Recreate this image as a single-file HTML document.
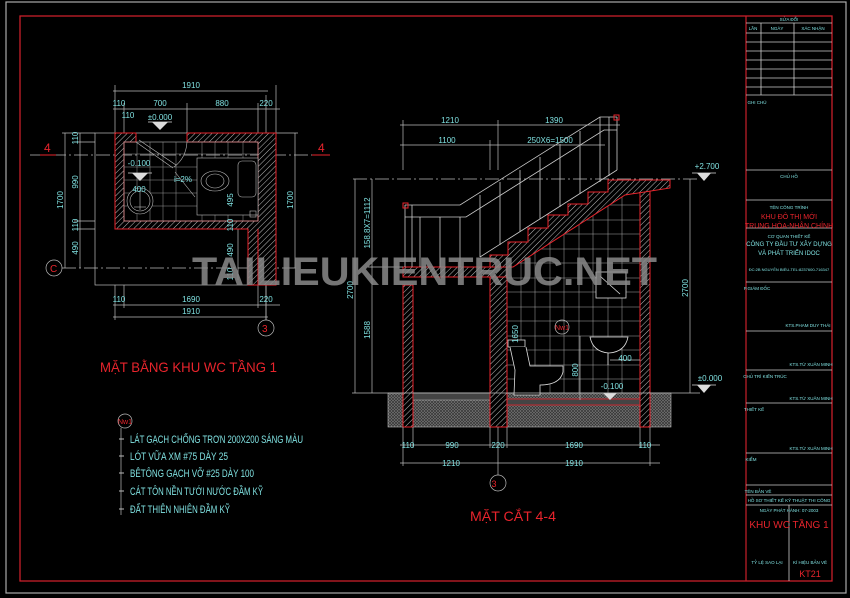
<!DOCTYPE html>
<html><head><meta charset="utf-8"><style>
html,body{margin:0;padding:0;background:#000;}
svg{display:block;}
text{font-family:"Liberation Sans Narrow","Liberation Sans",sans-serif;}
</style></head><body>
<svg width="850" height="598" viewBox="0 0 850 598" xmlns="http://www.w3.org/2000/svg">
<defs>
<pattern id="h" width="4" height="4" patternUnits="userSpaceOnUse" patternTransform="rotate(45)">
<rect width="4" height="4" fill="#000"/><line x1="0" y1="0" x2="0" y2="4" stroke="#bbb" stroke-width="1"/></pattern>
<pattern id="x" width="3" height="3" patternUnits="userSpaceOnUse">
<rect width="3" height="3" fill="#777"/><path d="M0 0L3 3M3 0L0 3" stroke="#333" stroke-width="0.7"/></pattern>
<clipPath id="bath"><polygon points="507,258 625,195 640,188 640,393 507,393"/></clipPath>
</defs>
<rect width="850" height="598" fill="#000"/>
<rect x="6" y="2" width="840" height="591" fill="none" stroke="#aaa" stroke-width="1.2"/>
<rect x="20" y="16" width="812" height="565" fill="none" stroke="#c8202a" stroke-width="1.3"/>

<!-- TITLE BLOCK -->
<g stroke="#ccc" stroke-width="0.8" fill="none">
<line x1="746" y1="16" x2="746" y2="581" stroke="#c8202a" stroke-width="1.2"/>
<line x1="746" y1="23" x2="832" y2="23"/>
<line x1="746" y1="33" x2="832" y2="33"/>
<line x1="746" y1="42" x2="832" y2="42"/><line x1="746" y1="51" x2="832" y2="51"/>
<line x1="746" y1="60" x2="832" y2="60"/><line x1="746" y1="69" x2="832" y2="69"/>
<line x1="746" y1="78" x2="832" y2="78"/><line x1="746" y1="87" x2="832" y2="87"/>
<line x1="746" y1="95" x2="832" y2="95"/>
<line x1="761" y1="23" x2="761" y2="95"/><line x1="794" y1="23" x2="794" y2="95"/>
<line x1="746" y1="170" x2="832" y2="170"/>
<line x1="746" y1="200" x2="832" y2="200"/>
<line x1="746" y1="228" x2="832" y2="228"/>
<line x1="746" y1="282" x2="832" y2="282"/>
<line x1="746" y1="331" x2="832" y2="331"/>
<line x1="746" y1="370" x2="832" y2="370"/>
<line x1="746" y1="403" x2="832" y2="403"/>
<line x1="746" y1="453" x2="832" y2="453"/>
<line x1="746" y1="485" x2="832" y2="485"/>
<line x1="746" y1="495" x2="832" y2="495"/>
<line x1="746" y1="505" x2="832" y2="505"/>
<line x1="789" y1="505" x2="789" y2="581"/>
</g>
<g fill="#7fe0e0" font-size="4.5" text-anchor="middle">
<text x="789" y="21">SỬA ĐỔI</text>
<text x="753" y="30">LẦN</text><text x="777" y="30">NGÀY</text><text x="813" y="30">XÁC NHẬN</text>
<text x="757" y="104">GHI CHÚ</text>
<text x="789" y="178">CHỦ HỒ</text>
<text x="789" y="209">TÊN CÔNG TRÌNH</text>
<text x="789" y="238">CƠ QUAN THIẾT KẾ</text>
<text x="789" y="271" font-size="4">ĐC:2B NGUYỄN BIỂU-TEL:8237600-716347</text>
<text x="757" y="290">P.GIÁM ĐỐC</text>
<text x="808" y="327">KTS.PHAM DUY THÁI</text>
<text x="765" y="378">CHỦ TRÌ KIẾN TRÚC</text>
<text x="811" y="366">KTS.TỪ XUÂN MINH</text>
<text x="754" y="411">THIẾT KẾ</text>
<text x="811" y="400">KTS.TỪ XUÂN MINH</text>
<text x="751" y="461">KIỂM</text>
<text x="811" y="450">KTS.TỪ XUÂN MINH</text>
<text x="758" y="493">TÊN BẢN VẼ</text>
<text x="789" y="502">HỒ SƠ THIẾT KẾ KỸ THUẬT THI CÔNG</text>
<text x="789" y="512">NGÀY PHÁT HÀNH: 07-2003</text>
<text x="767" y="564">TỶ LỆ SAO LẠI</text>
<text x="810" y="564">KÍ HIỆU BẢN VẼ</text>
<text x="789" y="246" font-size="6">CÔNG TY ĐẦU TƯ XÂY DỰNG</text>
<text x="789" y="255" font-size="6">VÀ PHÁT TRIỂN IDOC</text>
</g>
<g fill="#e8242c" text-anchor="middle">
<text x="789" y="219" font-size="7">KHU ĐÔ THỊ MỚI</text>
<text x="789" y="228" font-size="7">TRUNG HÒA-NHÂN CHÍNH</text>
<text x="789" y="528" font-size="10">KHU WC TẦNG 1</text>
<text x="810" y="577" font-size="9">KT21</text>
</g>

<!-- PLAN -->
<g stroke="#bbb" stroke-width="0.7" fill="none">
<rect x="95" y="133" width="181" height="152"/>
<line x1="113" y1="91" x2="268" y2="91"/>
<line x1="113" y1="109" x2="280" y2="109"/>
<line x1="115" y1="85" x2="115" y2="135"/><line x1="124" y1="103" x2="124" y2="135"/>
<line x1="187" y1="103" x2="187" y2="135"/><line x1="258" y1="103" x2="258" y2="135"/>
<line x1="276" y1="85" x2="276" y2="135"/>
<line x1="80" y1="133" x2="80" y2="268"/><line x1="65" y1="133" x2="65" y2="268"/>
<line x1="62" y1="133" x2="95" y2="133"/><line x1="74" y1="142" x2="95" y2="142"/>
<line x1="74" y1="221" x2="95" y2="221"/><line x1="74" y1="229" x2="95" y2="229"/>
<line x1="295" y1="133" x2="295" y2="268"/><line x1="276" y1="133" x2="298" y2="133"/>
<line x1="113" y1="305" x2="280" y2="305"/><line x1="113" y1="317" x2="268" y2="317"/>
<line x1="115" y1="285" x2="115" y2="320"/><line x1="124" y1="285" x2="124" y2="308"/>
<line x1="258" y1="285" x2="258" y2="308"/><line x1="266" y1="285" x2="266" y2="320"/>
<line x1="238" y1="229" x2="238" y2="280"/>
<line x1="266" y1="95" x2="266" y2="320"/>
<line x1="62" y1="268" x2="297" y2="268" stroke-dasharray="14,3,2,3"/>
<line x1="30" y1="155" x2="320" y2="155" stroke-dasharray="14,3,2,3"/>
</g>
<path d="M115 133H136V142H124V221H258V142H187V133H276V285H248V229H115Z" fill="url(#h)"/>
<g stroke="#e8242c" stroke-width="1" fill="none">
<path d="M136 133 H115 V229 H248 V285 H276 V133 H187"/>
<path d="M136 133 V142 H124 V221 H258 V142 H187 V133"/>
<line x1="258" y1="229" x2="258" y2="285"/>
</g>
<g fill="none" stroke="#bbb" stroke-width="0.6">
<rect x="124" y="142" width="134" height="79"/>
<g stroke="#999" stroke-width="0.5">
<line x1="124" y1="154" x2="258" y2="154"/><line x1="124" y1="167" x2="258" y2="167"/>
<line x1="124" y1="180" x2="258" y2="180"/><line x1="124" y1="193" x2="258" y2="193"/>
<line x1="124" y1="206" x2="258" y2="206"/>
<line x1="137" y1="142" x2="137" y2="221"/><line x1="150" y1="142" x2="150" y2="221"/>
<line x1="163" y1="142" x2="163" y2="221"/><line x1="176" y1="142" x2="176" y2="221"/>
<line x1="202" y1="142" x2="202" y2="221"/><line x1="215" y1="142" x2="215" y2="221"/>
<line x1="228" y1="142" x2="228" y2="221"/><line x1="243" y1="142" x2="243" y2="221"/>
</g>
<rect x="197" y="158" width="61" height="57" fill="#000"/>
<ellipse cx="215" cy="181" rx="14" ry="10" fill="#000"/><ellipse cx="215" cy="181" rx="9" ry="7"/>
<rect x="238" y="161" width="18" height="36" rx="4" fill="#000"/>
<circle cx="140" cy="201" r="13" fill="#000"/><circle cx="140" cy="201" r="10"/>
<line x1="140" y1="190" x2="140" y2="210"/><line x1="134" y1="207" x2="146" y2="207"/>
<line x1="136" y1="142" x2="173" y2="168"/><line x1="139" y1="140" x2="176" y2="165"/>
<path d="M187 142 Q186 158 174 167"/>
<line x1="175" y1="172" x2="195" y2="197"/>
<rect x="250" y="211" width="6" height="6"/>
</g>
<polygon points="152,122 168,122 160,130" fill="#ddd"/><line x1="148" y1="122" x2="172" y2="122" stroke="#ddd" stroke-width="0.7"/>
<polygon points="132,173 148,173 140,181" fill="#ddd"/><line x1="128" y1="173" x2="152" y2="173" stroke="#ddd" stroke-width="0.7"/>
<g fill="#e8242c">
<text x="44" y="152" font-size="12">4</text><text x="318" y="152" font-size="12">4</text>
<line x1="40" y1="155" x2="56" y2="155" stroke="#e8242c"/><line x1="312" y1="155" x2="330" y2="155" stroke="#e8242c"/>
<text x="50" y="272" font-size="10">C</text><text x="262" y="332" font-size="10">3</text>
</g>
<circle cx="54" cy="268" r="8" fill="none" stroke="#bbb" stroke-width="0.7"/>
<circle cx="266" cy="328" r="8" fill="none" stroke="#bbb" stroke-width="0.7"/>
<g fill="#7fe0e0" font-size="8" text-anchor="middle">
<text x="191" y="88">1910</text>
<text x="119" y="106">110</text><text x="160" y="106">700</text><text x="222" y="106">880</text><text x="266" y="106">220</text>
<text x="128" y="118">110</text>
<text x="160" y="120">±0.000</text>
<text x="139" y="166">-0.100</text>
<text x="139" y="192">400</text>
<text x="183" y="182">i=2%</text>
<text x="191" y="302">1690</text><text x="119" y="302">110</text><text x="266" y="302">220</text>
<text x="191" y="314">1910</text>
<text transform="translate(78,138) rotate(-90)">110</text>
<text transform="translate(78,182) rotate(-90)">990</text>
<text transform="translate(78,225) rotate(-90)">110</text>
<text transform="translate(78,248) rotate(-90)">490</text>
<text transform="translate(63,200) rotate(-90)">1700</text>
<text transform="translate(293,200) rotate(-90)">1700</text>
<text transform="translate(233,200) rotate(-90)">495</text>
<text transform="translate(233,225) rotate(-90)">110</text>
<text transform="translate(233,250) rotate(-90)">490</text>
<text transform="translate(233,274) rotate(-90)">110</text>
</g>

<text x="100" y="372" font-size="14" fill="#e8242c" textLength="177" lengthAdjust="spacingAndGlyphs">MẶT BẰNG KHU WC TẦNG 1</text>
<circle cx="125" cy="421" r="7" fill="none" stroke="#bbb" stroke-width="0.7"/>
<text x="125" y="424" font-size="7" fill="#e8242c" text-anchor="middle">Nw1</text>
<line x1="121" y1="428" x2="121" y2="515" stroke="#bbb" stroke-width="0.7"/>
<g fill="#7fe0e0" font-size="11">
<line x1="119" y1="439" x2="124" y2="439" stroke="#bbb"/><text x="130" y="443" textLength="173" lengthAdjust="spacingAndGlyphs">LÁT GẠCH CHỐNG TRƠN 200X200 SÁNG MÀU</text>
<line x1="119" y1="456" x2="124" y2="456" stroke="#bbb"/><text x="130" y="460" textLength="98" lengthAdjust="spacingAndGlyphs">LÓT VỮA XM #75 DÀY 25</text>
<line x1="119" y1="473" x2="124" y2="473" stroke="#bbb"/><text x="130" y="477" textLength="124" lengthAdjust="spacingAndGlyphs">BÊTÔNG GẠCH VỠ #25 DÀY 100</text>
<line x1="119" y1="491" x2="124" y2="491" stroke="#bbb"/><text x="130" y="495" textLength="133" lengthAdjust="spacingAndGlyphs">CÁT TÔN NỀN TƯỚI NƯỚC ĐẦM KỸ</text>
<line x1="119" y1="509" x2="124" y2="509" stroke="#bbb"/><text x="130" y="513" textLength="100" lengthAdjust="spacingAndGlyphs">ĐẤT THIÊN NHIÊN ĐẦM KỸ</text>
</g>

<!-- SECTION -->
<g clip-path="url(#bath)" stroke="#aaa" stroke-width="0.5">
<line x1="521" y1="180" x2="521" y2="393"/><line x1="535" y1="180" x2="535" y2="393"/>
<line x1="550" y1="180" x2="550" y2="393"/><line x1="564" y1="180" x2="564" y2="393"/>
<line x1="579" y1="180" x2="579" y2="393"/><line x1="593" y1="180" x2="593" y2="393"/>
<line x1="608" y1="180" x2="608" y2="393"/><line x1="622" y1="180" x2="622" y2="393"/>
<line x1="507" y1="205" x2="640" y2="205"/><line x1="507" y1="220" x2="640" y2="220"/>
<line x1="507" y1="234" x2="640" y2="234"/><line x1="507" y1="249" x2="640" y2="249"/>
<line x1="507" y1="263" x2="640" y2="263"/><line x1="507" y1="278" x2="640" y2="278"/>
<line x1="507" y1="292" x2="640" y2="292"/><line x1="507" y1="307" x2="640" y2="307"/>
<line x1="507" y1="321" x2="640" y2="321"/><line x1="507" y1="336" x2="640" y2="336"/>
<line x1="507" y1="350" x2="640" y2="350"/><line x1="507" y1="365" x2="640" y2="365"/>
<line x1="507" y1="379" x2="640" y2="379"/>
</g>
<rect x="388" y="393" width="283" height="34" fill="url(#x)" stroke="#bbb" stroke-width="0.6"/>
<rect x="507" y="399" width="133" height="6" fill="#444" stroke="#e8242c" stroke-width="0.8"/>
<rect x="413" y="393" width="77" height="7" fill="#444" stroke="#bbb" stroke-width="0.5"/>
<g fill="url(#h)" stroke="#e8242c" stroke-width="1">
<rect x="403" y="285" width="10" height="142"/>
<rect x="490" y="275" width="17" height="152"/>
<rect x="640" y="188" width="10" height="239"/>
<rect x="403" y="267" width="104" height="10"/>
<polygon points="490,267 490,255 508,255 508,242 528,242 528,228 548,228 548,215 568,215 568,204 588,204 588,192 608,192 608,180 670,180 670,188 625,195 513,267"/>
</g>
<g stroke="#ccc" stroke-width="0.8" fill="none">
<path d="M405 205 H460 L600 117 H617"/>
<path d="M405 217 H466 L604 130 H617"/>
<line x1="480" y1="257" x2="617" y2="170"/>
<line x1="405" y1="205" x2="405" y2="267"/><line x1="412" y1="205" x2="412" y2="267"/>
<line x1="420" y1="217" x2="420" y2="267"/><line x1="440" y1="217" x2="440" y2="267"/>
<line x1="460" y1="217" x2="460" y2="267"/>
<line x1="480" y1="195" x2="480" y2="257"/><line x1="500" y1="182" x2="500" y2="245"/>
<line x1="520" y1="170" x2="520" y2="232"/><line x1="540" y1="157" x2="540" y2="219"/>
<line x1="560" y1="144" x2="560" y2="207"/><line x1="580" y1="131" x2="580" y2="194"/>
<line x1="600" y1="117" x2="600" y2="182"/><line x1="609" y1="117" x2="609" y2="176"/>
<line x1="617" y1="117" x2="617" y2="170"/>
</g>
<rect x="403" y="203" width="5" height="5" fill="none" stroke="#e8242c"/>
<rect x="614" y="115" width="5" height="5" fill="none" stroke="#e8242c"/>
<line x1="353" y1="179" x2="700" y2="179" stroke="#bbb" stroke-width="0.7" stroke-dasharray="14,3,2,3"/>
<g stroke="#ddd" stroke-width="0.8" fill="#000">
<rect x="596" y="272" width="30" height="26"/><line x1="600" y1="276" x2="620" y2="294"/>
<path d="M508 340 H525 V347 H508 Z"/>
<path d="M510 347 L515 370 L514 395 H540 L540 385 Q560 385 563 372 V366 H530 L526 347"/>
<path d="M590 337 H628 Q625 352 609 353 Q593 352 590 337 Z"/>
<line x1="608" y1="353" x2="608" y2="365"/>
</g>
<polygon points="603,393 617,393 610,400" fill="#ddd"/>
<polygon points="697,173 711,173 704,181" fill="#ddd"/><line x1="692" y1="173" x2="716" y2="173" stroke="#ddd" stroke-width="0.7"/>
<polygon points="697,385 711,385 704,393" fill="#ddd"/><line x1="692" y1="385" x2="716" y2="385" stroke="#ddd" stroke-width="0.7"/>
<circle cx="562" cy="327" r="7" fill="none" stroke="#bbb" stroke-width="0.7"/>
<text x="562" y="330" font-size="7" fill="#e8242c" text-anchor="middle">Nw1</text>
<g stroke="#bbb" stroke-width="0.7" fill="none">
<line x1="400" y1="125" x2="620" y2="125"/><line x1="400" y1="145" x2="605" y2="145"/>
<line x1="403" y1="120" x2="403" y2="170"/><line x1="498" y1="120" x2="498" y2="170"/>
<line x1="490" y1="140" x2="490" y2="170"/>
<line x1="355" y1="179" x2="355" y2="393"/><line x1="372" y1="179" x2="372" y2="393"/>
<line x1="352" y1="393" x2="700" y2="393"/><line x1="368" y1="267" x2="403" y2="267"/>
<line x1="690" y1="179" x2="690" y2="393"/>
<line x1="400" y1="445" x2="660" y2="445"/><line x1="400" y1="463" x2="660" y2="463"/>
<line x1="403" y1="427" x2="403" y2="466"/><line x1="413" y1="427" x2="413" y2="448"/>
<line x1="490" y1="427" x2="490" y2="448"/><line x1="498" y1="427" x2="498" y2="475"/>
<line x1="507" y1="427" x2="507" y2="448"/><line x1="640" y1="427" x2="640" y2="448"/>
<line x1="650" y1="427" x2="650" y2="466"/>
<line x1="580" y1="336" x2="580" y2="400"/>
<line x1="610" y1="360" x2="640" y2="360"/>
</g>
<circle cx="498" cy="483" r="8" fill="none" stroke="#bbb" stroke-width="0.7"/>
<g fill="#7fe0e0" font-size="8" text-anchor="middle">
<text x="450" y="123">1210</text><text x="554" y="123">1390</text>
<text x="447" y="143">1100</text><text x="550" y="143">250X6=1500</text>
<text x="707" y="169">+2.700</text><text x="710" y="381">±0.000</text>
<text x="612" y="389">-0.100</text><text x="625" y="361">400</text>
<text x="408" y="448">110</text><text x="452" y="448">990</text><text x="498" y="448">220</text>
<text x="574" y="448">1690</text><text x="645" y="448">110</text>
<text x="451" y="466">1210</text><text x="574" y="466">1910</text>
<text transform="translate(353,290) rotate(-90)">2700</text>
<text transform="translate(370,223) rotate(-90)">158.8X7=1112</text>
<text transform="translate(370,330) rotate(-90)">1588</text>
<text transform="translate(688,288) rotate(-90)">2700</text>
<text transform="translate(518,334) rotate(-90)">1650</text>
<text transform="translate(578,370) rotate(-90)">800</text>
</g>
<text x="494" y="487" font-size="9" fill="#e8242c" text-anchor="middle">3</text>
<text x="470" y="521" font-size="14" fill="#e8242c" textLength="86" lengthAdjust="spacingAndGlyphs">MẶT CẮT 4-4</text>

<text x="192" y="285" font-family="Liberation Sans" font-weight="bold" font-size="40" fill="#8a8a8a" fill-opacity="0.85" textLength="465" lengthAdjust="spacingAndGlyphs">TAILIEUKIENTRUC.NET</text>
</svg>
</body></html>
